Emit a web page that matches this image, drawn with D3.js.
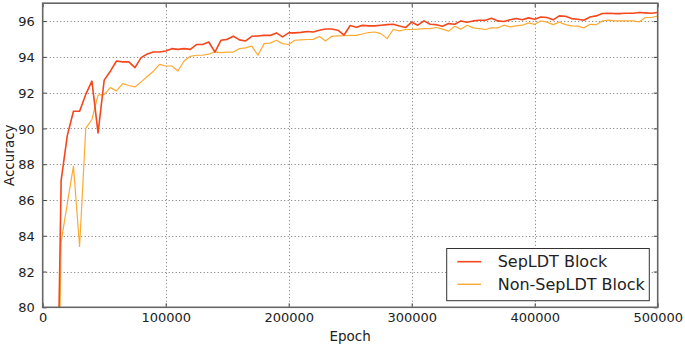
<!DOCTYPE html>
<html><head><meta charset="utf-8">
<script src="https://cdn.jsdelivr.net/npm/d3@7/dist/d3.min.js"></script>
<style>
html,body{margin:0;padding:0;background:#fff;}
svg text{font-family:"DejaVu Sans",sans-serif;fill:#222;}
</style></head>
<body><svg id="c" width="685" height="347"></svg>
<script>
// epochs: 10000, then 15000..500000 step 5000
const epochs = [10000, 15000,20000,25000,30000,35000,40000,45000,50000,55000,60000,65000,70000,75000,80000,85000,90000,95000,100000,105000,110000,115000,120000,125000,130000,135000,140000,145000,150000,155000,160000,165000,170000,175000,180000,185000,190000,195000,200000,205000,210000,215000,220000,225000,230000,235000,240000,245000,250000,255000,260000,265000,270000,275000,280000,285000,290000,295000,300000,305000,310000,315000,320000,325000,330000,335000,340000,345000,350000,355000,360000,365000,370000,375000,380000,385000,390000,395000,400000,405000,410000,415000,420000,425000,430000,435000,440000,445000,450000,455000,460000,465000,470000,475000,480000,485000,490000,495000,500000];
const sepLDT = [66,
87.1,89.6,90.96,90.96,91.9,92.64,89.75,92.7,93.2,93.77,
93.72,93.72,93.4,93.96,94.16,94.27,94.27,94.33,94.46,94.42,
94.46,94.42,94.69,94.69,94.83,94.27,94.93,94.98,95.15,94.95,
94.89,95.15,95.17,95.2,95.2,95.34,95.12,95.34,95.34,95.37,
95.42,95.39,95.49,95.56,95.56,95.49,95.22,95.75,95.66,95.76,
95.73,95.73,95.77,95.8,95.82,95.73,95.64,95.94,95.77,96.01,
95.82,95.8,95.71,95.86,95.82,96.01,95.94,96.01,96.05,96.05,
96.16,96.01,95.98,96.07,96.14,96.07,96.18,96.1,96.23,96.2,
96.07,96.29,96.27,96.14,96.1,96.05,96.23,96.29,96.42,96.44,
96.42,96.42,96.44,96.44,96.48,96.46,96.44,96.48];
const nonSepLDT = [62,
83.66,85.8,87.89,83.4,90.0,90.5,91.86,91.9,92.28,92.1,
92.5,92.4,92.32,92.6,92.9,93.2,93.58,93.49,93.49,93.21,
93.77,94.03,94.09,94.09,94.15,94.27,94.24,94.27,94.27,94.46,
94.5,94.6,94.09,94.74,94.77,94.93,94.74,94.69,94.93,94.95,
94.97,94.98,95.14,94.89,95.15,95.17,95.18,95.2,95.2,95.28,
95.36,95.39,95.3,95.02,95.53,95.45,95.53,95.53,95.55,95.58,
95.58,95.64,95.55,95.44,95.71,95.55,95.77,95.62,95.58,95.53,
95.62,95.62,95.77,95.68,95.73,95.77,95.9,95.82,96.01,95.94,
95.8,95.94,95.8,95.73,95.72,95.62,95.82,95.8,96.01,96.05,
96.01,96.01,96.01,96.01,95.96,96.2,96.2,96.28];
const xTicks = [0,100000,200000,300000,400000,500000];
const yTicks = [80,82,84,86,88,90,92,94,96];
const seriesNames = ["SepLDT Block","Non-SepLDT Block"];
const seriesColors = ["#f4471c","#fdaa33"];

const L=42.7, R=657.7, T=3.2, B=307.3;
const svg = d3.select("#c");
const x = d3.scaleLinear().domain([0,500000]).range([L,R]);
const y = d3.scaleLinear().domain([80,97]).range([B,T]);

svg.append("defs").append("clipPath").attr("id","clip")
  .append("rect").attr("x",L).attr("y",T).attr("width",R-L).attr("height",B-T);

// grid
const grid = svg.append("g").attr("stroke","#777").attr("stroke-width",1).attr("stroke-dasharray","1,2.5");
grid.selectAll("line.gx").data(xTicks.slice(1,-1)).join("line")
  .attr("x1",d=>Math.round(x(d))+0.5).attr("x2",d=>Math.round(x(d))+0.5).attr("y1",T).attr("y2",B);
grid.selectAll("line.gy").data(yTicks.slice(1)).join("line")
  .attr("y1",d=>Math.round(y(d))+0.5).attr("y2",d=>Math.round(y(d))+0.5).attr("x1",L).attr("x2",R);

// lines
const data = [sepLDT, nonSepLDT];
const lineGen = vals => d3.line().x((d,i)=>x(epochs[i])).y(d=>y(d))(vals);
const widths = [1.6,1.2];
svg.append("g").attr("clip-path","url(#clip)").selectAll("path").data([1,0]).join("path")
  .attr("d",i=>lineGen(data[i])).attr("fill","none")
  .attr("stroke",i=>seriesColors[i]).attr("stroke-width",i=>widths[i]).attr("stroke-linejoin","round");

// axes
const fs = "13px";
const xa = svg.append("g").attr("transform",`translate(0,${B})`)
  .call(d3.axisBottom(x).tickValues(xTicks).tickFormat(d3.format("d")).tickSizeInner(-4).tickSizeOuter(0).tickPadding(8));
const ya = svg.append("g").attr("transform",`translate(${L},0)`)
  .call(d3.axisLeft(y).tickValues(yTicks).tickFormat(d3.format("d")).tickSizeInner(-4).tickSizeOuter(0).tickPadding(8));
const xt = svg.append("g").attr("transform",`translate(0,${T})`)
  .call(d3.axisTop(x).tickValues(xTicks).tickFormat("").tickSizeInner(-4).tickSizeOuter(0));
const yr = svg.append("g").attr("transform",`translate(${R},0)`)
  .call(d3.axisRight(y).tickValues(yTicks).tickFormat("").tickSizeInner(-4).tickSizeOuter(0));
[xa,ya,xt,yr].forEach(g=>{
  g.select(".domain").remove();
  g.selectAll(".tick line").attr("stroke","#444").attr("stroke-width",1);
  g.selectAll("text").style("font-size",fs).attr("fill","#222").style("font-family","DejaVu Sans");
});
ya.selectAll("text").attr("dy","0.36em");
xa.selectAll("text").attr("dy","0.8em").attr("y",4);

// frame
svg.append("rect").attr("x",L).attr("y",T).attr("width",R-L).attr("height",B-T)
  .attr("fill","none").attr("stroke","#666").attr("stroke-width",1.6);

// axis labels
svg.append("text").attr("x",(L+R)/2).attr("y",341).attr("text-anchor","middle").style("font-size","13.5px").text("Epoch");
svg.append("text").attr("transform",`translate(14,${(T+B)/2}) rotate(-90)`).attr("text-anchor","middle").style("font-size","13.5px").text("Accuracy");

// legend
const lg = svg.append("g");
lg.append("rect").attr("x",446.7).attr("y",248.5).attr("width",202.6).attr("height",52.2)
  .attr("fill","#fff").attr("stroke","#333").attr("stroke-width",1);
seriesNames.forEach((nm,i)=>{
  const cy = 261.7 + i*22.6;
  lg.append("line").attr("x1",457.3).attr("x2",481).attr("y1",cy).attr("y2",cy)
    .attr("stroke",seriesColors[i]).attr("stroke-width",i===0?1.6:1.4);
  lg.append("text").attr("x",497.7).attr("y",cy).attr("dy","0.36em").style("font-size","16px").text(nm);
});
</script></body></html>
